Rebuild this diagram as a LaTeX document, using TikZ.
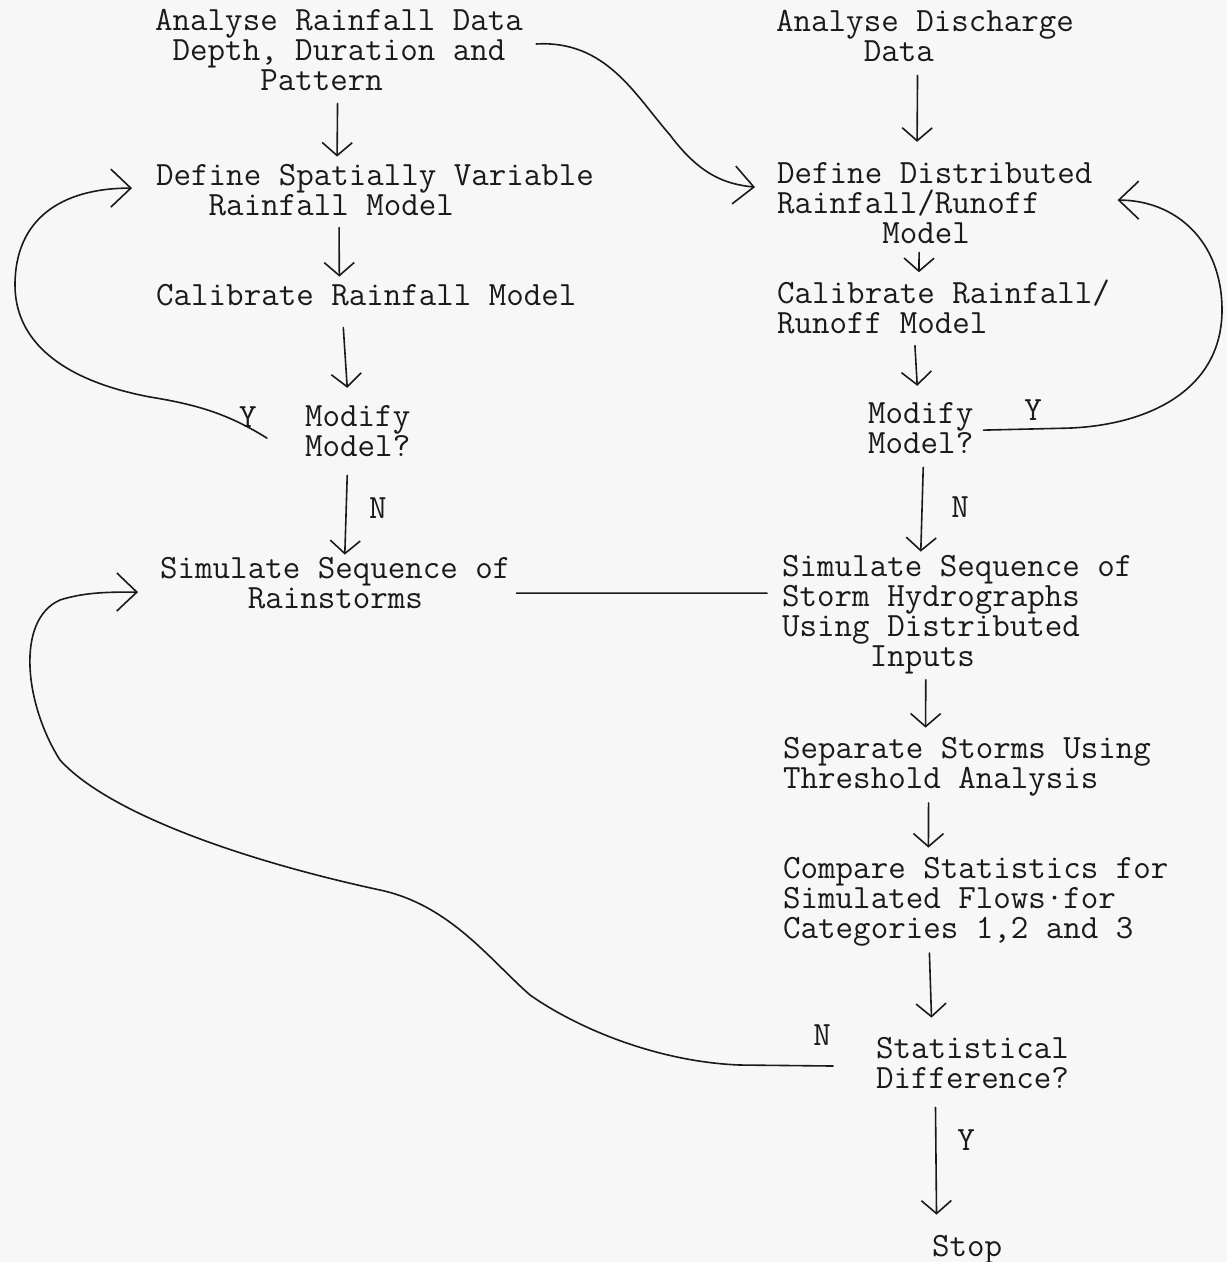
\documentclass[tikz,border=0pt]{standalone}
\usepackage{tikz}
\definecolor{ink}{HTML}{1A1A1A}
\definecolor{paper}{HTML}{F7F7F7}
\usetikzlibrary{
  arrows.meta,
  calc
}
% typewriter face and indents measured in character cells
\newcommand{\typew}{\ttfamily\fontsize{34}{30}\selectfont}
\newcommand{\pad}[1]{\hspace*{#1\fontcharwd\font`x}}
\tikzset{
  every picture/.style={line cap=round, line join=round},
  txt/.style={font=\typew, text=ink, align=left, anchor=base west, inner sep=0pt},
  yn/.style={font=\typew, text=ink, inner sep=0pt},
  link/.style={draw=ink, line width=1.6pt},
  flow/.style={link, -{Straight Barb[length=13pt,width=30pt]}},
  backflow/.style={link, -{Straight Barb[length=20pt,width=38pt]}}
}

\begin{document}
\begin{tikzpicture}[x=1pt, y=-1pt]
  \fill[paper] (0,0) rectangle (1227,1262);
  \useasboundingbox (0,0) rectangle (1227,1262);

  % Rainfall column (placed by the baseline of the last line)
  \node[txt] (rdata) at (155,90) {Analyse Rainfall Data\\\pad1Depth, Duration and\\\pad6Pattern};
  \node[txt] (rdef) at (156,215) {Define Spatially Variable\\\pad3Rainfall Model};
  \node[txt] (rcal) at (156,305) {Calibrate Rainfall Model};
  \node[txt] (rmod) at (305,456) {Modify\\Model?};
  \node[txt] (rsim) at (160,608) {Simulate Sequence of\\\pad5Rainstorms};

  % Discharge column
  \node[txt] (qdata) at (776,61) {Analyse Discharge\\\pad5Data};
  \node[txt] (qdef) at (777,243) {Define Distributed\\Rainfall/Runoff\\\pad6Model};
  \node[txt] (qcal) at (777,333) {Calibrate Rainfall/\\Runoff Model};
  \node[txt] (qmod) at (868,453) {Modify\\Model?};
  \node[txt] (qsim) at (782,666) {Simulate Sequence of\\Storm Hydrographs\\Using Distributed\\\pad5Inputs};
  \node[txt] (qsep) at (783,788) {Separate Storms Using\\Threshold Analysis};
  \node[txt] (qcmp) at (783,938) {Compare Statistics for\\Simulated Flows\textperiodcentered for\\Categories 1,2 and 3};
  \node[txt] (qdiff) at (876,1088) {Statistical\\Difference?};
  \node[txt] (stop) at (932,1256) {Stop};

  % Decision labels
  \node[yn] (ry) at (248,417) {Y};
  \node[yn] (rn) at (378,508) {N};
  \node[yn] (qy) at (1033,410) {Y};
  \node[yn] (qn) at (960,507) {N};
  \node[yn] (dn) at (822,1035) {N};
  \node[yn] (dy) at (966,1140) {Y};

  % Straight steps
  \draw[flow] ([shift={(-1.5,13)}]rdata.south) -- ([shift={(-38,-7)}]rdef.north);
  \draw[flow] ([shift={(-36,12)}]rdef.south) -- ([shift={(-27,-7)}]rcal.north);
  \draw[flow] ([shift={(-23,22)}]rcal.south) -- ([shift={(-10.5,-17)}]rmod.north);
  \draw[flow] ([shift={(-10.5,19)}]rmod.south) -- ([shift={(9.5,-2)}]rsim.north);

  \draw[flow] ([shift={(-7.5,14)}]qdata.south) -- ([shift={(-17.7,-20)}]qdef.north);
  \draw[flow] ([shift={(-15.7,9)}]qdef.south) -- ([shift={(-24.6,-7)}]qcal.north);
  \draw[flow] ([shift={(-28.6,12)}]qcal.south) -- ([shift={(-3.5,-16)}]qmod.north);
  \draw[flow] ([shift={(2.5,14)}]qmod.south) -- ([shift={(-36.5,-3)}]qsim.north);
  \draw[flow] ([shift={(-31.5,6)}]qsim.south) -- ([shift={(-41.5,-9)}]qsep.north);
  \draw[flow] ([shift={(-38.5,7)}]qsep.south) -- ([shift={(-47.4,-9)}]qcmp.north);
  \draw[flow] ([shift={(-46.4,7)}]qcmp.south) -- ([shift={(-41,-19)}]qdiff.north);
  \draw[flow] ([shift={(-37,19)}]qdiff.south) -- ([shift={(-30.7,-20)}]stop.north);

  % Cross links and loops
  \draw[backflow] ([shift={(13,-5.5)}]rdata.east) .. controls +(70,-4) and +(-35,-40) .. (670,135)
    .. controls +(30,40) and +(-30,-3) .. ([shift={(-22,-15.5)}]qdef.west);
  \draw[backflow] ([shift={(-38,7.5)}]rmod.west) .. controls +(-37,-23) and +(50,8) .. (150,397)
    .. controls +(-90,-17) and +(0,55) .. (15,285)
    .. controls +(0,-65) and +(-72,0) .. ([shift={(-24,-1.5)}]rdef.west);
  \draw[backflow] ([shift={(10,2.5)}]qmod.east) -- ++(85,-2) .. controls +(80,-3) and +(0,80) .. (1222,310)
    .. controls +(0,-70) and +(57,0) .. ([shift={(25,-2.5)}]qdef.east);
  \draw[link] ([shift={(6,10.5)}]rsim.east) -- ([shift={(-15,-21)}]qsim.west);
  \draw[backflow] ([shift={(-43,3.5)}]qdiff.west) -- ++(-93,-1)
    .. controls (660,1062) and (580,1030) .. (530,995)
    .. controls (490,960) and (450,905) .. (380,890)
    .. controls (250,862) and (110,815) .. (60,760)
    .. controls (25,705) and (15,620) .. (60,600)
    .. controls (85,592) and (110,592) .. ([shift={(-22,9.5)}]rsim.west);
\end{tikzpicture}
\end{document}
